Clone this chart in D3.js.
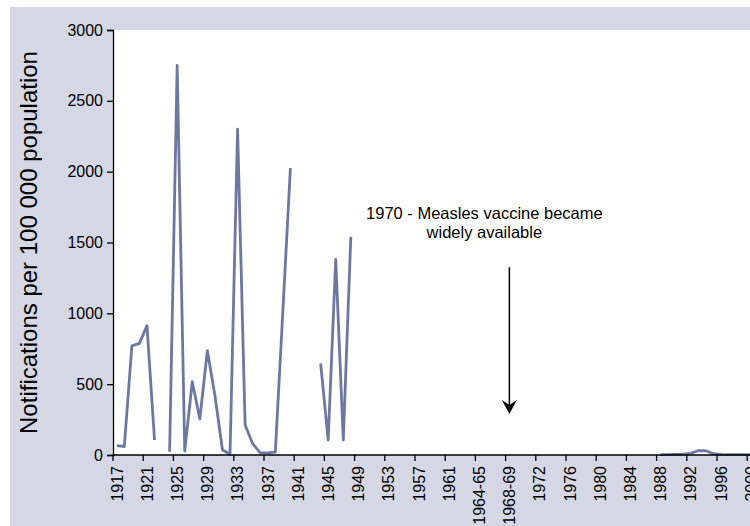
<!DOCTYPE html>
<html>
<head>
<meta charset="utf-8">
<script src="https://cdn.jsdelivr.net/npm/d3@7"></script>
<style>
  body { margin: 0; background: #fff; }
  svg { display: block; font-family: "Liberation Sans", Arial, sans-serif; }
</style>
</head>
<body>
<svg width="750" height="526"></svg>
<script>
var svg = d3.select("svg");

// categories as on the x axis (one per year / season)
var categories = [
  "1917","1918","1919","1920","1921","1922","1923","1924","1925","1926",
  "1927","1928","1929","1930","1931","1932","1933","1934","1935","1936",
  "1937","1938","1939","1940","1941","1942","1943","1944","1945","1946",
  "1947","1948","1949","1950","1951","1952","1953","1954","1955","1956",
  "1957","1958","1959","1960","1961","1962","1963","1963-64","1964-65","1965-66",
  "1966-67","1967-68","1968-69","1969-70","1970-71","1971","1972","1973","1974","1975",
  "1976","1977","1978","1979","1980","1981","1982","1983","1984","1985",
  "1986","1987","1988","1989","1990","1991","1992","1993","1994","1995",
  "1996","1997","1998","1999","2000","2001","2002"
];

// notifications per 100 000, null = no data
var rates = [
  66, 60, 770, 788, 913, 106, null, 23, 2750, 28,
  517, 254, 736, 420, 35, 7, 2300, 212, 80, 15,
  15, 20, 1020, 2025, null, null, null, 647, 106, 1380,
  106, 1540, null, null, null, null, null, null, null, null,
  null, null, null, null, null, null, null, null, null, null,
  null, null, null, null, null, null, null, null, null, null,
  null, null, null, null, null, null, null, null, null, null,
  null, null, 3, 3, 4, 6, 12, 30, 30, 9,
  4, 3, 3, 2, 2, 2, 2
];

var tickLabels = ["1917","1921","1925","1929","1933","1937","1941","1945","1949","1953",
  "1957","1961","1964-65","1968-69","1972","1976","1980","1984","1988","1992","1996","2000"];

var yTicks = [0, 500, 1000, 1500, 2000, 2500, 3000];

var plotLeft = 113, plotTop = 30, plotBottom = 455;
var step = 7.55;

var x = d3.scaleBand()
  .domain(categories)
  .range([plotLeft, plotLeft + step * categories.length])
  .padding(0);

var y = d3.scaleLinear()
  .domain([0, 3000])
  .range([plotBottom, plotTop]);

// backgrounds
svg.append("rect")
  .attr("x", 10).attr("y", 7)
  .attr("width", 740).attr("height", 519)
  .attr("fill", "#d5d8e4");

svg.append("rect")
  .attr("x", plotLeft).attr("y", plotTop)
  .attr("width", 750 - plotLeft).attr("height", plotBottom - plotTop)
  .attr("fill", "#ffffff");

// line
var data = categories.map(function(c, i) { return {cat: c, v: rates[i]}; });

var line = d3.line()
  .defined(function(d) { return d.v != null; })
  .x(function(d) { return x(d.cat) + x.bandwidth() / 2; })
  .y(function(d) { return y(d.v); });

svg.append("path")
  .datum(data)
  .attr("fill", "none")
  .attr("stroke", "#6b78a2")
  .attr("stroke-width", 2.8)
  .attr("stroke-linejoin", "round")
  .attr("d", line);

// y axis
var yAxis = svg.append("g")
  .attr("transform", "translate(" + plotLeft + ",0)")
  .call(d3.axisLeft(y).tickValues(yTicks).tickSize(6).tickPadding(4).tickFormat(d3.format("d")));
yAxis.select(".domain").attr("stroke", "#000").attr("stroke-width", 1.3);
yAxis.selectAll(".tick line").attr("stroke", "#000").attr("stroke-width", 1.3);
yAxis.selectAll("text").attr("font-size", 16).attr("fill", "#000")
  .attr("font-family", "'Liberation Sans', Arial, sans-serif");

// x axis: ticks on category boundaries, labels centred
var xAxis = svg.append("g")
  .attr("transform", "translate(0," + plotBottom + ")")
  .call(d3.axisBottom(x).tickValues(tickLabels).tickSize(6));
xAxis.select(".domain").attr("d", "M" + plotLeft + ",0H750").attr("stroke", "#000").attr("stroke-width", 1.3);
xAxis.selectAll(".tick line")
  .attr("x1", -x.bandwidth() / 2).attr("x2", -x.bandwidth() / 2)
  .attr("stroke", "#000").attr("stroke-width", 1.3);
xAxis.selectAll(".tick text")
  .attr("transform", "rotate(-90)")
  .attr("x", -11).attr("y", 0).attr("dy", "0.36em")
  .attr("text-anchor", "end")
  .attr("font-size", 16).attr("fill", "#000")
  .attr("font-family", "'Liberation Sans', Arial, sans-serif");

// y axis title
svg.append("text")
  .attr("transform", "translate(37," + ((plotTop + plotBottom) / 2) + ") rotate(-90)")
  .attr("text-anchor", "middle")
  .attr("font-size", 24)
  .attr("fill", "#000")
  .text("Notifications per 100 000 population");

// annotation arrow at the 1968-69 category
var ax = x("1968-69") + x.bandwidth() / 2;
var arrowTip = y(290);

svg.append("line")
  .attr("x1", ax).attr("x2", ax)
  .attr("y1", y(1325)).attr("y2", arrowTip - 4)
  .attr("stroke", "#000")
  .attr("stroke-width", 1.5);

svg.append("path")
  .attr("d", "M" + (ax - 7.5) + "," + (arrowTip - 14) + "L" + ax + "," + arrowTip + "L" + (ax + 7.5) + "," + (arrowTip - 14) + "L" + ax + "," + (arrowTip - 9) + "Z")
  .attr("fill", "#000");

var note = svg.append("text")
  .attr("text-anchor", "middle")
  .attr("font-size", 16.5)
  .attr("fill", "#000");
note.append("tspan").attr("x", ax - 25).attr("y", 219).text("1970 - Measles vaccine became");
note.append("tspan").attr("x", ax - 25).attr("y", 238).text("widely available");
</script>
</body>
</html>
